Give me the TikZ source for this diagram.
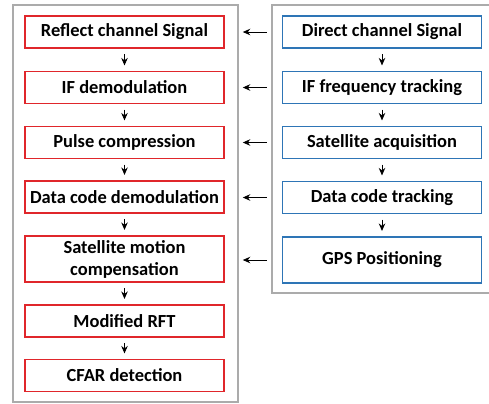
\documentclass[tikz,border=0pt]{standalone}
\usepackage{fontspec}
\setmainfont{Carlito}
\usepackage{xcolor}
\usetikzlibrary{arrows.meta,positioning}
\definecolor{redc}{HTML}{E0262B}
\definecolor{bluec}{HTML}{2E75B6}
\definecolor{framec}{HTML}{ABABAB}
\tikzset{
  ar/.style={-{Stealth[length=1.5mm,width=1.3mm]},line width=0.5pt,black},
  rbox/.style={draw=redc,line width=0.9pt,fill=white,align=center,minimum width=3.98cm,minimum height=0.64cm,inner sep=1pt,font=\fontsize{10.5}{12.5}\selectfont\bfseries},
  bbox/.style={rbox,draw=bluec},
  frm/.style={draw=framec,line width=0.7pt}
}
\begin{document}
\begin{tikzpicture}[x=0.02cm,y=-0.02cm]
\useasboundingbox (0,0) rectangle (489,403);
\draw[frm] (13,5) rectangle (238,402);
\draw[frm] (272,5) rectangle (495,293);
% reflect channel
\node[rbox] (r1) at (124.5,32) {Reflect channel Signal};
\node[rbox] (r2) at (124.5,87.5) {IF demodulation};
\node[rbox] (r3) at (124.5,142.5) {Pulse compression};
\node[rbox] (r4) at (124.5,197) {Data code demodulation};
\node[rbox,minimum height=0.92cm] (r5) at (124.5,259) {Satellite motion\\compensation};
\node[rbox] (r6) at (124.5,321) {Modified RFT};
\node[rbox] (r7) at (124.5,375.5) {CFAR detection};
% direct channel
\node[bbox] (d1) at (382,32) {Direct channel Signal};
\node[bbox] (d2) at (382,87.5) {IF frequency tracking};
\node[bbox] (d3) at (382,142.5) {Satellite acquisition};
\node[bbox] (d4) at (382,197.5) {Data code tracking};
\node[bbox,minimum height=0.92cm] (d5) at (382,260) {GPS Positioning};
\foreach \a/\b in {r1/r2,r2/r3,r3/r4,r4/r5,r5/r6,r6/r7,d1/d2,d2/d3,d3/d4,d4/d5}
  \draw[ar,shorten <=3pt,shorten >=3pt] (\a.south) -- (\b.north);
\foreach \i in {1,...,5}
  \draw[ar,shorten <=0.3cm,shorten >=0.36cm] (d\i.west) -- (r\i.east |- d\i.west);
\end{tikzpicture}
\end{document}
